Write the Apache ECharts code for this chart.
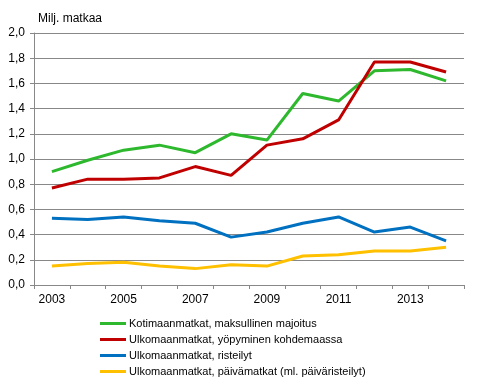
<!DOCTYPE html>
<html><head><meta charset="utf-8">
<script src="https://cdn.jsdelivr.net/npm/echarts@6/dist/echarts.min.js"></script>
<style>html,body{margin:0;padding:0;background:#fff}#c{width:488px;height:382px}</style>
</head><body><div id="c"></div>
<script>
const categories = ['2003','2004','2005','2006','2007','2008','2009','2010','2011','2012','2013','2014'];
const seriesNames = [
  'Kotimaanmatkat, maksullinen majoitus',
  'Ulkomaanmatkat, yöpyminen kohdemaassa',
  'Ulkomaanmatkat, risteilyt',
  'Ulkomaanmatkat, päivämatkat (ml. päiväristeilyt)'
];
const kotimaan = [0.90, 0.99, 1.07, 1.11, 1.05, 1.20, 1.15, 1.52, 1.46, 1.70, 1.71, 1.62];
const yopyminen = [0.77, 0.84, 0.84, 0.85, 0.94, 0.87, 1.11, 1.16, 1.31, 1.77, 1.77, 1.69];
const risteilyt = [0.53, 0.52, 0.54, 0.51, 0.49, 0.38, 0.42, 0.49, 0.54, 0.42, 0.46, 0.35];
const paivamatkat = [0.15, 0.17, 0.18, 0.15, 0.13, 0.16, 0.15, 0.23, 0.24, 0.27, 0.27, 0.30];
const colors = ['#2eb82e', '#c00000', '#0070c0', '#ffc000'];
const yTicks = {min: 0, max: 2, interval: 0.2};

const chart = echarts.init(document.getElementById('c'));
const allData = [kotimaan, yopyminen, risteilyt, paivamatkat];
chart.setOption({
  animation: false,
  textStyle: {fontFamily: 'Liberation Sans, Arial, sans-serif'},
  grid: {left: 34, right: 24, top: 33, bottom: 97},
  graphic: [{type: 'text', left: 38, top: 13, style: {text: 'Milj. matkaa', font: '12px "Liberation Sans", Arial', fill: '#000'}}],
  legend: {
    orient: 'vertical', left: 100, top: 317, height: 65, padding: 0,
    itemWidth: 26, itemHeight: 3, itemGap: 3,
    icon: 'rect',
    textStyle: {fontSize: 11, color: '#000', lineHeight: 13, padding: [0,0,0,-2]},
    data: seriesNames
  },
  xAxis: {
    type: 'category', data: categories, boundaryGap: true,
    axisLine: {lineStyle: {color: '#888', width: 1}},
    axisTick: {show: true, length: 4, interval: 0, lineStyle: {color: '#888'}},
    axisLabel: {interval: 1, color: '#000', fontSize: 12, margin: 9}
  },
  yAxis: {
    type: 'value', min: yTicks.min, max: yTicks.max, interval: yTicks.interval,
    axisLine: {show: true, lineStyle: {color: '#888', width: 1}},
    axisTick: {show: true, length: 4, lineStyle: {color: '#888'}},
    splitLine: {lineStyle: {color: '#888', width: 1}},
    axisLabel: {color: '#000', fontSize: 12, margin: 9, formatter: v => v.toFixed(1).replace('.', ',')}
  },
  series: seriesNames.map((n, i) => ({
    name: n, type: 'line', data: allData[i], symbol: 'none',
    lineStyle: {color: colors[i], width: 3}, itemStyle: {color: colors[i]}
  }))
});
</script></body></html>
